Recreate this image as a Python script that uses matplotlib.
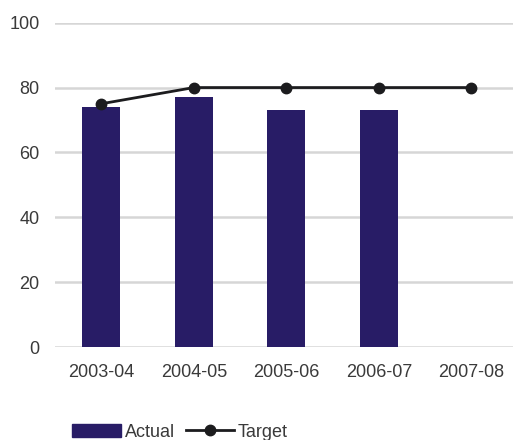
import matplotlib.pyplot as plt
from matplotlib.lines import Line2D
from matplotlib.patches import Patch

years = ['2003-04', '2004-05', '2005-06', '2006-07', '2007-08']
actual = [74, 77, 73, 73]
target = [75, 80, 80, 80, 80]

plt.rcParams['font.family'] = ['Liberation Sans', 'DejaVu Sans']
text_col = '#3a3a3a'

fig = plt.figure(figsize=(5.13, 4.40), dpi=100)
ax = fig.add_axes([55 / 513, 93 / 440, 1 - 55 / 513, 324.3 / 440])

x = list(range(len(years)))
ax.bar(x[:len(actual)], actual, width=0.41, color='#281c66', zorder=2)
ax.plot(x, target, color='#1c1c1e', linewidth=2, marker='o', markersize=7.5, zorder=3)

ax.set_ylim(0, 100)
ax.set_xlim(-0.5, 4.45)
ax.set_yticks(range(0, 101, 20))
ax.set_xticks(x)
ax.set_xticklabels(years)
ax.grid(axis='y', color='#d6d6d6', linewidth=1.8, zorder=0)
ax.set_axisbelow(True)
for s in ax.spines.values():
    s.set_visible(False)
ax.tick_params(length=0, labelsize=13, labelcolor=text_col)
ax.tick_params(axis='y', pad=11)
ax.tick_params(axis='x', pad=12)

handles = [Patch(color='#281c66'),
           Line2D([], [], color='#1c1c1e', linewidth=2, marker='o', markersize=7.5)]
fig.legend(handles, ['Actual', 'Target'], loc='center left', bbox_to_anchor=(56 / 513, 8 / 440),
           ncol=2, frameon=False, fontsize=13, labelcolor=text_col,
           handlelength=2.7, handleheight=0.7, handletextpad=0.2, columnspacing=0.6)

fig.savefig('out.png', dpi=100)
